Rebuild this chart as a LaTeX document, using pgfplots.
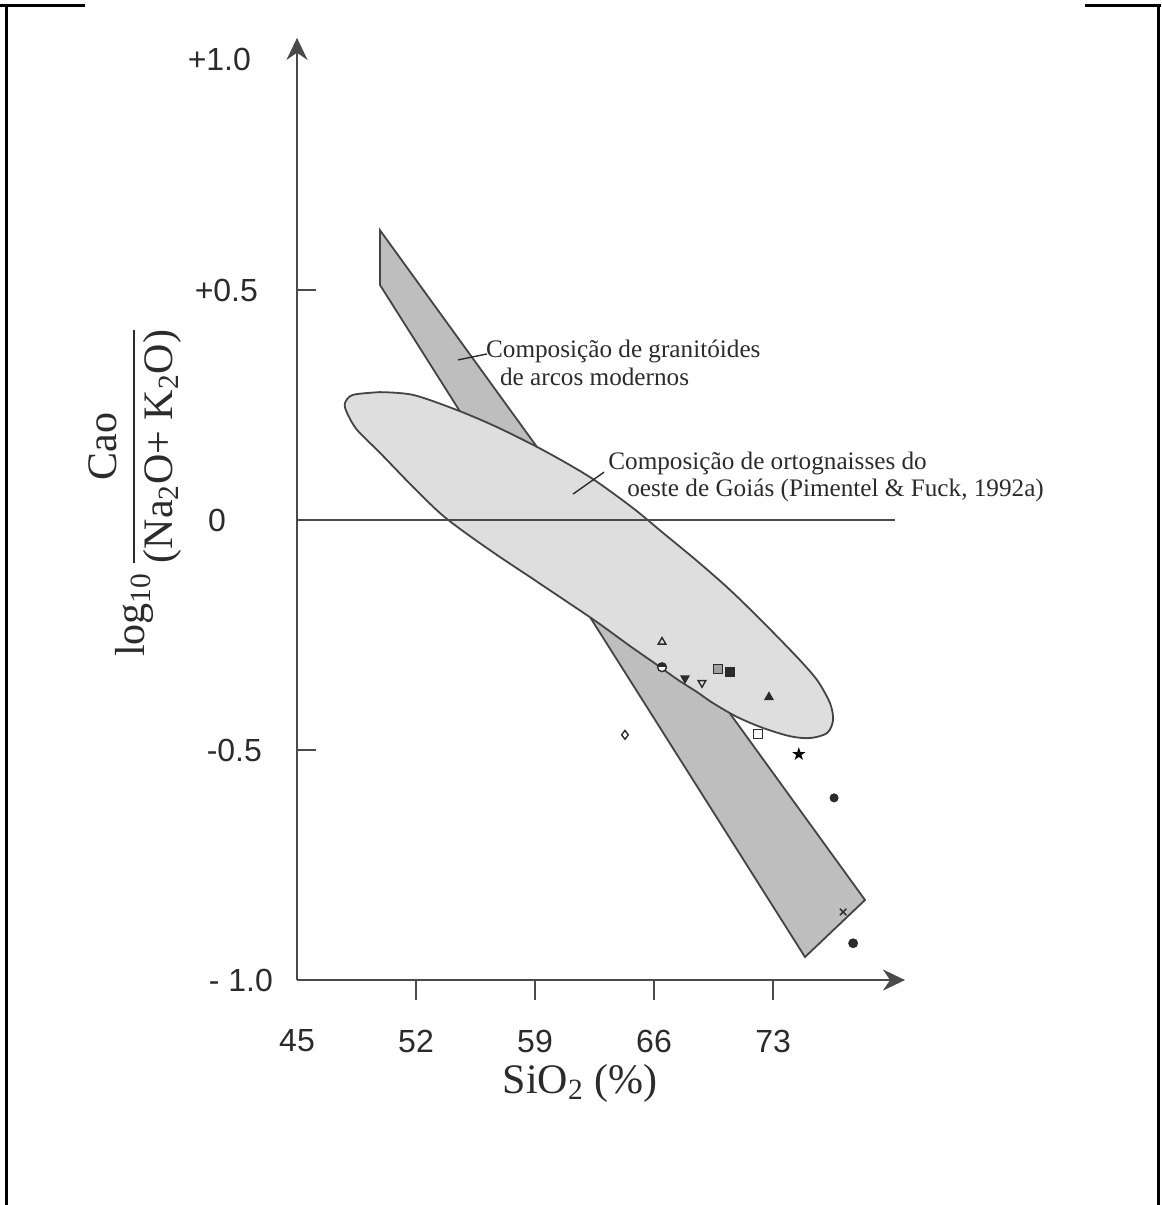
\documentclass[border=0pt]{standalone}
\usepackage{fontspec}
\usepackage{amsmath}
\usepackage{pgfplots}
\pgfplotsset{compat=1.18}
\usetikzlibrary{arrows.meta}
\setmainfont{Liberation Serif}
\setsansfont{Liberation Sans}
\newfontfamily\symfont{DejaVu Sans}
\definecolor{bandfill}{HTML}{BEBEBE}
\definecolor{ellfill}{HTML}{DEDEDE}
\definecolor{edge}{HTML}{444444}
\definecolor{ink}{HTML}{2B2B2B}
\definecolor{axisc}{HTML}{4A4A4A}
\pgfplotsset{sample/.style={only marks, mark size=2.2pt, ink, line width=0.7pt}}
\begin{document}
\begin{tikzpicture}
\begin{axis}[
  x=8.5pt, y=230pt,
  xmin=45, xmax=80.76, ymin=-1, ymax=1.048,
  axis lines=left,
  axis line style={axisc, line width=1.3pt},
  x axis line style={-{Stealth[length=11pt,width=10.5pt]}},
  y axis line style={-{Stealth[length=11pt,width=10.5pt]}},
  clip=false,
  tick align=center,
  major tick length=10pt,
  xtick={52,59,66,73},
  xticklabels={52,59,66,73},
  extra x ticks={45},
  extra x tick labels={45},
  extra x tick style={major tick length=0pt, xticklabel style={yshift=-4.5pt}},
  xtick style={axisc, line width=1.2pt, yshift=-5pt},
  ytick={-0.5,0.5},
  yticklabels={-0.5\kern-2pt,+0.5},
  extra y ticks={-1,0,1},
  extra y tick labels={- 1.0\kern-8.5pt,0\kern15pt,+1.0\kern2.5pt},
  extra y tick style={major tick length=0pt, yticklabel style={xshift=-6pt}},
  ytick style={axisc, line width=1.2pt, xshift=4.5pt},
  tick label style={font=\fontsize{16}{16}\selectfont\sffamily, text=ink},
  xticklabel style={anchor=north, yshift=-16.5pt},
  yticklabel style={anchor=east, xshift=-11pt},
  xlabel={SiO\textsubscript{2} (\%)},
  xlabel style={at={(axis description cs:0.4656,-0.1094)}, anchor=center, font=\fontsize{21}{25}\selectfont, text=ink},
  ylabel={log\textsubscript{10}\,$\dfrac{\text{Cao}}{\text{(Na\textsubscript{2}O+ K\textsubscript{2}O)}}$},
  ylabel style={at={(axis description cs:-0.2665,0.518)}, anchor=center, rotate=0, font=\fontsize{21}{25}\selectfont, text=ink},
]
% modern arc granitoids band
\addplot[draw=edge, line width=0.9pt, fill=bandfill] coordinates {
 (49.88,0.630) (78.41,-0.826) (74.88,-0.950) (49.88,0.511)} -- cycle;
% ortognaisses field
\addplot[draw=edge, line width=0.9pt, fill=ellfill, smooth, tension=0.5] coordinates {
 (49.88,0.278) (51.82,0.272) (54.41,0.239) (56.76,0.202) (59.47,0.152)
 (62.24,0.093) (64.76,0.026) (66.53,-0.028) (68.53,-0.089) (70.47,-0.152)
 (72.41,-0.222) (74.41,-0.298) (75.59,-0.348) (76.35,-0.398) (76.53,-0.435)
 (76.18,-0.463) (75.18,-0.474) (74.00,-0.470) (72.41,-0.452) (70.88,-0.428)
 (69.47,-0.398) (68.53,-0.374) (67.35,-0.346) (66.18,-0.315) (64.59,-0.274)
 (62.65,-0.222) (60.65,-0.172) (58.71,-0.124) (56.76,-0.076) (54.76,-0.024)
 (53.41,0.015) (51.82,0.072) (49.88,0.146) (48.53,0.196) (47.94,0.233)
 (47.82,0.254) (48.29,0.272) (49.88,0.278)};
% zero line
\addplot[axisc, line width=1pt] coordinates {(45,0) (80.2,0)};
% samples
\addplot[sample, mark=triangle, mark options={fill=white}] coordinates {(66.47,-0.265)};
\addplot[sample, mark=halfcircle*, mark options={fill=ink}] coordinates {(66.47,-0.320)};
\addplot[sample, mark=triangle*, mark options={rotate=180, fill=ink}] coordinates {(67.82,-0.344)};
\addplot[sample, mark=triangle, mark options={rotate=180, fill=white}] coordinates {(68.82,-0.354)};
\addplot[sample, mark=square*, mark options={fill=ink!45}] coordinates {(69.76,-0.324)};
\addplot[sample, mark=square*, mark options={fill=ink}] coordinates {(70.47,-0.330)};
\addplot[sample, mark=triangle*, mark options={fill=ink}] coordinates {(72.76,-0.385)};
\addplot[sample, mark=diamond, mark options={fill=white}] coordinates {(64.29,-0.467)};
\addplot[sample, mark=square, mark options={fill=white}] coordinates {(72.12,-0.465)};
\addplot[sample, mark=text, text mark={\symfont\fontsize{9}{9}\selectfont ★}] coordinates {(74.53,-0.509)};
\addplot[sample, mark=*, mark size=1.9pt, mark options={fill=ink}] coordinates {(76.59,-0.604)};
\addplot[sample, mark=x, mark size=2.3pt] coordinates {(77.12,-0.852)};
\addplot[sample, mark=*, mark size=2.1pt, mark options={fill=ink}] coordinates {(77.71,-0.920)};
% annotations
\draw[ink, line width=0.7pt] (axis cs:54.47,0.348) -- (axis cs:56.18,0.361);
\node[anchor=west, align=left, text=ink, font=\fontsize{12.6}{14}\selectfont, inner sep=0pt] at (axis cs:56.1,0.342)
  {Composição de granitóides\\\hspace{7pt}de arcos modernos};
\draw[ink, line width=0.7pt] (axis cs:61.24,0.0565) -- (axis cs:63.06,0.104);
\node[anchor=west, align=left, text=ink, font=\fontsize{12.6}{13.5}\selectfont, inner sep=0pt] at (axis cs:63.29,0.0946)
  {Composição de ortognaisses do\\\hspace{9.5pt}oeste de Goiás (Pimentel \& Fuck, 1992a)};
% frame
\draw[black, line width=1.5pt] (axis cs:27.94,1.1174) -- (axis cs:27.94,-1.489);
\draw[black, line width=1.5pt] (axis cs:95.65,1.1174) -- (axis cs:95.65,-1.489);
\draw[black, line width=1.5pt] (axis cs:27.53,1.1174) -- (axis cs:32.53,1.1174);
\draw[black, line width=1.5pt] (axis cs:91.35,1.1174) -- (axis cs:95.82,1.1174);
\coordinate (bbtl) at (axis cs:27.53,1.1304);
\coordinate (bbbr) at (axis cs:95.82,-1.489);
\end{axis}
\pgfresetboundingbox
\useasboundingbox (bbtl) rectangle (bbbr);
\end{tikzpicture}
\end{document}
